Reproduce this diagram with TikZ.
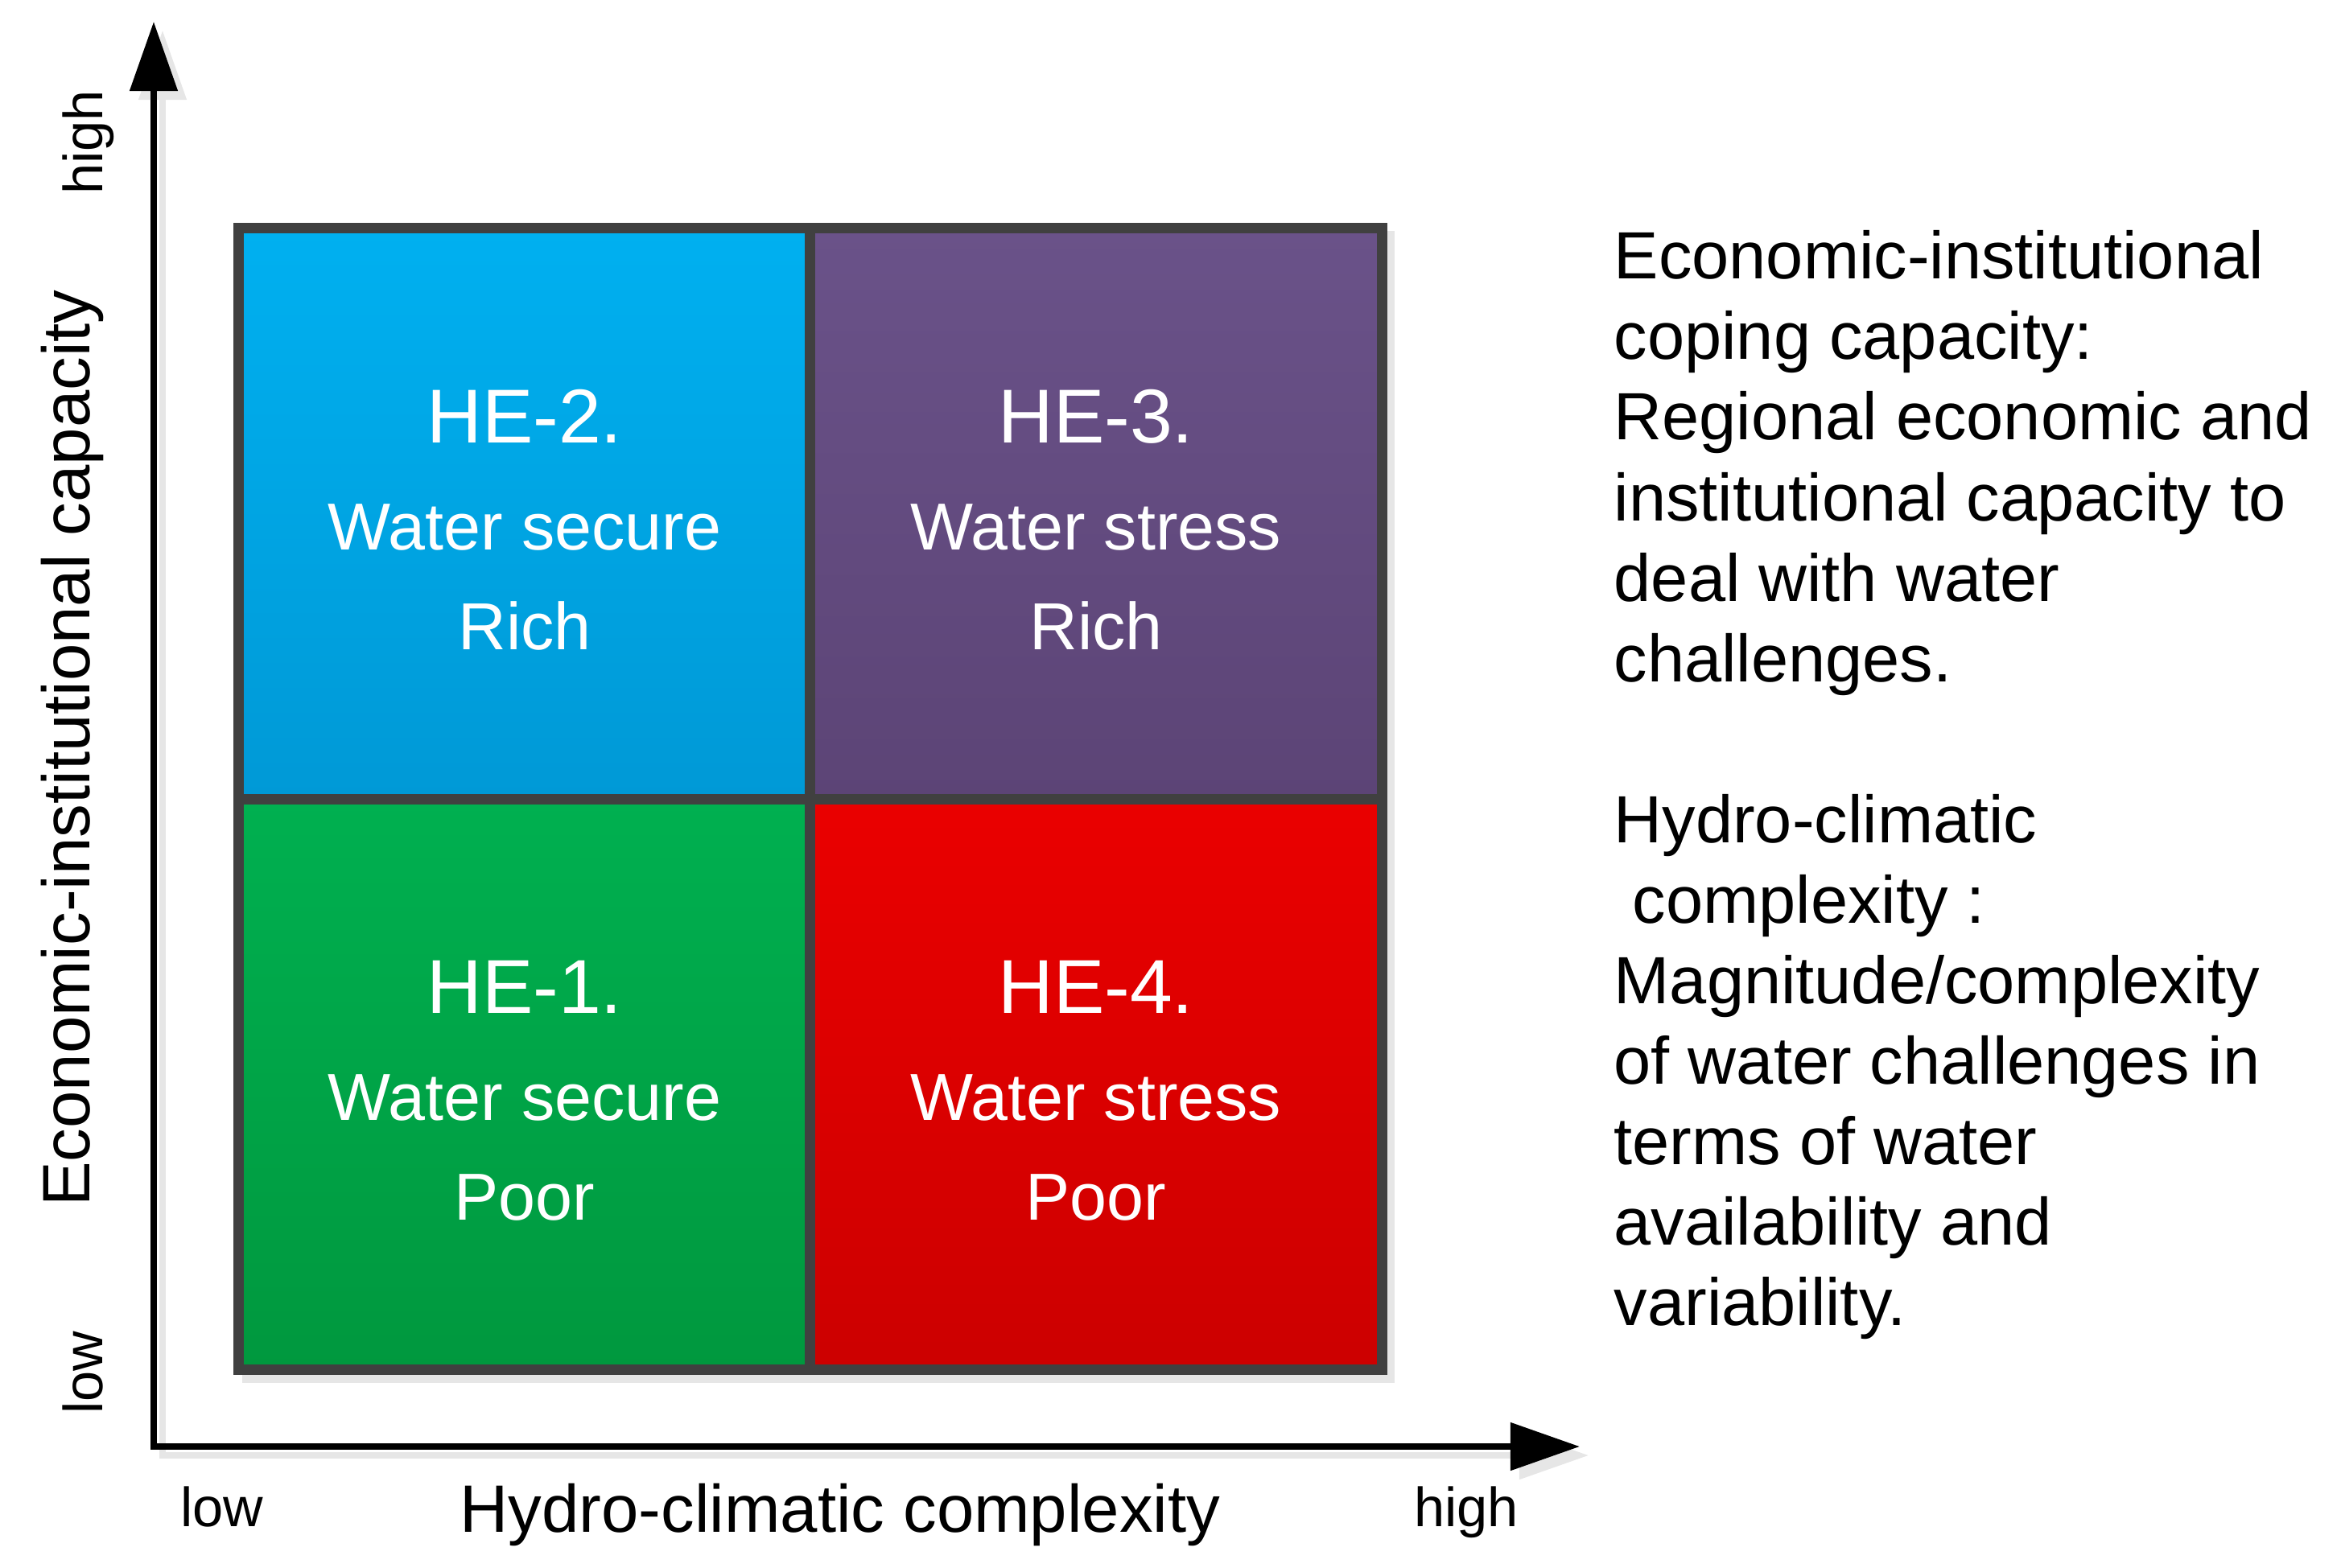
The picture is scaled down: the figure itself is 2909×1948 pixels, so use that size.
\documentclass[tikz,border=0pt]{standalone}
\usepackage{fontspec}
\setmainfont{Liberation Sans}
\usetikzlibrary{arrows.meta}
\definecolor{border}{HTML}{404040}
\definecolor{shadowgray}{HTML}{E6E6E6}
\definecolor{blueT}{HTML}{00B0F0}
\definecolor{blueB}{HTML}{0099D6}
\definecolor{purpleT}{HTML}{6A5289}
\definecolor{purpleB}{HTML}{5C4476}
\definecolor{greenT}{HTML}{00B050}
\definecolor{greenB}{HTML}{00983E}
\definecolor{redT}{HTML}{EA0000}
\definecolor{redB}{HTML}{CC0000}
\begin{document}
\begin{tikzpicture}[x=0.01cm, y=-0.01cm,
  quad/.style={rectangle, draw=border, line width=0.13cm, minimum width=7.10cm, minimum height=7.095cm, inner sep=0pt, outer sep=0pt},
  hetitle/.style={text=white, anchor=base, inner sep=0pt, font=\fontsize{27}{32}\selectfont},
  heline/.style={text=white, anchor=base, inner sep=0pt, font=\fontsize{23.5}{28}\selectfont},
  axlab/.style={anchor=base, inner sep=0pt, font=\fontsize{23.7}{28}\selectfont},
  endlab/.style={anchor=base, inner sep=0pt, font=\fontsize{19.5}{23}\selectfont},
  axisline/.style={line width=0.08cm, line join=miter, arrows={Triangle[length=0.86cm,width=0.58cm]-Triangle[length=0.86cm,width=0.58cm]}}
]
\useasboundingbox (0,0) rectangle (2909,1948);

% axes
\coordinate (ytip) at (191,27);
\coordinate (origin) at (191,1798);
\coordinate (xtip) at (1963,1798);
\coordinate (ytipS) at (202,38);
\coordinate (originS) at (202,1809);
\coordinate (xtipS) at (1974,1809);
\draw[axisline, draw=shadowgray] (ytipS) -- (originS) -- (xtipS);
\draw[axisline, draw=black] (ytip) -- (origin) -- (xtip);

% grid shadow
\fill[shadowgray] (301,287) rectangle (1733,1719);

% quadrants
\node[quad, top color=blueT, bottom color=blueB] (q2) at (652,638.5) {};
\node[quad, top color=purpleT, bottom color=purpleB] (q3) at (1362,638.5) {};
\node[quad, top color=greenT, bottom color=greenB] (q1) at (652,1348) {};
\node[quad, top color=redT, bottom color=redB] (q4) at (1362,1348) {};

% quadrant texts
\node[hetitle] (t2) at (652,550) {HE-2.};
\node[heline] (w2) at (652,683) {Water secure};
\node[heline] (r2) at (652,807) {Rich};
\node[hetitle] (t3) at (1362,550) {HE-3.};
\node[heline] (w3) at (1362,683) {Water stress};
\node[heline] (r3) at (1362,807) {Rich};
\node[hetitle] (t1) at (652,1259) {HE-1.};
\node[heline] (w1) at (652,1392) {Water secure};
\node[heline] (r1) at (652,1516) {Poor};
\node[hetitle] (t4) at (1362,1259) {HE-4.};
\node[heline] (w4) at (1362,1392) {Water stress};
\node[heline] (r4) at (1362,1516) {Poor};

% axis labels
\node[axlab, rotate=90] (ylab) at (111,930) {Economic-institutional capacity};
\node[endlab, rotate=90] (yhigh) at (127,177) {high};
\node[endlab, rotate=90] (ylow) at (127,1706) {low};
\node[axlab] (xlab) at (1044,1904) {Hydro-climatic complexity};
\node[endlab] (xlow) at (276,1897) {low};
\node[endlab] (xhigh) at (1822,1897) {high};

% legend
\node[anchor=north west, align=left, inner sep=0pt, font=\fontsize{23.6}{28.45}\selectfont] (legend) at (2005,286)
{Economic-institutional\\coping capacity:\\Regional economic and\\institutional capacity to\\deal with water\\challenges.\\[28.45pt]Hydro-climatic\\\hspace*{0.28em}complexity :\\Magnitude/complexity\\of water challenges in\\terms of water\\availability and\\variability.};
\end{tikzpicture}
\end{document}
